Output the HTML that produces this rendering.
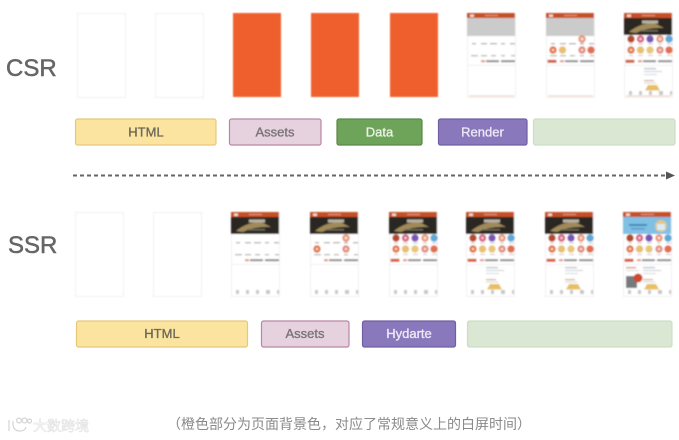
<!DOCTYPE html>
<html><head><meta charset="utf-8"><style>
html,body{margin:0;padding:0;background:#fff;width:679px;height:440px;overflow:hidden}
svg{display:block}
text{font-family:"Liberation Sans","Noto Sans CJK SC",sans-serif}
</style></head><body>
<svg width="679" height="440" viewBox="0 0 679 440" xmlns="http://www.w3.org/2000/svg">
<defs>
<filter id="b" x="-5%" y="-5%" width="110%" height="110%"><feGaussianBlur stdDeviation="0.7"/></filter>
<filter id="t"><feGaussianBlur stdDeviation="0.35"/></filter>
<g id="frame"><rect x="0.5" y="0.5" width="48" height="84" fill="#fff" stroke="#f0f0f0"/></g>
<g id="head"><rect x="0" y="0" width="48" height="5" fill="#c64f28"/><rect x="3" y="1.5" width="4" height="2.5" fill="#f3d9cc"/><rect x="18" y="2" width="13" height="1" fill="#e89a7c"/></g>
<g id="gray"><rect x="0" y="5" width="48" height="18" fill="#cbcbcb"/></g>
<g id="black"><rect x="0" y="5" width="48" height="17" fill="#2a2622"/><path d="M5 19 Q16 10 30 10 L40 15 Q24 14 12 20Z" fill="#a08a58"/><rect x="18" y="7.5" width="16" height="3" fill="#b8b0a0"/><rect x="16" y="17" width="18" height="1.5" fill="#6f6a5e"/></g>
<g id="blue"><rect x="0" y="5" width="48" height="17" fill="#7fc0e4"/><rect x="6" y="12" width="18" height="2" fill="#3f88b8"/><rect x="8" y="16" width="14" height="1.5" fill="#5b9dc6"/><circle cx="38" cy="14" r="6" fill="#e2c58a"/><rect x="34" y="12" width="8" height="6" fill="#d9ecf5"/></g>
<g id="l1" fill="#b5b5b5"><rect x="5" y="30" width="4" height="1.4"/><rect x="14" y="30" width="6" height="1.4"/><rect x="23" y="30" width="7" height="1.4"/><rect x="34" y="30" width="4" height="1.4"/><rect x="43" y="30" width="5" height="1.4"/></g>
<g id="l2" fill="#bcbcbc"><rect x="4" y="42" width="7" height="1.4"/><rect x="14" y="42" width="6" height="1.4"/><rect x="24" y="42" width="5" height="1.4"/><rect x="34" y="42" width="4" height="1.4"/><rect x="44" y="42" width="4" height="1.4"/></g>
<g id="strip"><rect x="14" y="47.2" width="4" height="2" fill="#e09080"/><rect x="19" y="47.2" width="13" height="2" fill="#8a8a8a"/><rect x="34" y="47.2" width="14" height="2" fill="#8a8a8a"/><rect x="0" y="52" width="48" height="0.8" fill="#ececec"/></g>
<g id="tag"><rect x="1.5" y="46.8" width="9" height="3" fill="#d25a3c"/></g>
<g id="foot"><g fill="#c6c6c6"><rect x="5" y="78" width="3" height="4"/><rect x="15" y="78" width="3" height="4"/><rect x="25" y="78" width="3" height="4"/><rect x="35" y="78" width="4" height="4"/><rect x="46" y="78" width="2" height="4"/></g></g>
<g id="footline"><rect x="2" y="82.5" width="45" height="1" fill="#ecc9ba"/></g>
<g id="content"><rect x="20" y="55" width="12" height="1.3" fill="#b9bfcc"/><rect x="20" y="58" width="18" height="1" fill="#c8ccd6"/><rect x="20" y="61" width="13" height="1" fill="#d2d5dc"/><rect x="20" y="67" width="10" height="1.2" fill="#d7a68e"/><rect x="20" y="69.5" width="12" height="1" fill="#d4d4d4"/><path d="M21 77.5 L24 72 H33 L36 77.5Z" fill="#e8bf62"/></g>
<g id="left"><rect x="3" y="55" width="10" height="1.3" fill="#d58a70"/><rect x="3" y="58" width="13" height="1" fill="#d6d6d6"/><rect x="3" y="64" width="11" height="12" fill="#77797c"/><circle cx="15" cy="66" r="4.5" fill="#cf4a2a"/></g>
<g id="a1"><circle cx="7" cy="26" r="3.7" fill="#b5492c"/></g>
<g id="a2"><circle cx="16.5" cy="26" r="3.7" fill="#d8587a"/><circle cx="16.5" cy="26" r="1.4" fill="#f4d0da"/></g>
<g id="a3"><circle cx="26" cy="26" r="3.7" fill="#7a55b5"/></g>
<g id="a4"><circle cx="36" cy="26" r="3.7" fill="#e89070"/><circle cx="36" cy="26" r="1.5" fill="#fbe3d8"/></g>
<g id="a5"><circle cx="45" cy="26" r="3.7" fill="#60a8d8"/></g>
<g id="b1"><circle cx="7" cy="37" r="3.7" fill="#e0703a"/><circle cx="7" cy="37" r="1.4" fill="#f8d4c0"/></g>
<g id="b2"><circle cx="16.5" cy="37" r="3.7" fill="#e8c070"/></g>
<g id="b3"><circle cx="26" cy="37" r="3.7" fill="#e8c878"/></g>
<g id="b4"><circle cx="36" cy="37" r="3.7" fill="#e08878"/><circle cx="36" cy="37" r="1.4" fill="#f8dcd4"/></g>
<g id="b5"><circle cx="45" cy="37" r="3.7" fill="#e07050"/></g>
<g id="all"><use href="#a1"/><use href="#a2"/><use href="#a3"/><use href="#a4"/><use href="#a5"/><use href="#b1"/><use href="#b2"/><use href="#b3"/><use href="#b4"/><use href="#b5"/></g>
<g id="labels"><g fill="#c8c8c8"><rect x="5" y="30.5" width="4" height="1"/><rect x="14" y="30.5" width="5" height="1"/><rect x="24" y="30.5" width="5" height="1"/><rect x="34" y="30.5" width="4" height="1"/><rect x="43" y="30.5" width="5" height="1"/><rect x="5" y="42" width="4" height="1"/><rect x="14" y="42" width="5" height="1"/><rect x="24" y="42" width="5" height="1"/><rect x="34" y="42" width="4" height="1"/><rect x="43" y="42" width="5" height="1"/></g></g>
</defs>

<g filter="url(#b)">
<!-- CSR row -->
<use href="#frame" x="77" y="13"/>
<use href="#frame" x="155" y="13"/>
<rect x="233" y="13" width="48" height="84" fill="#ef5f2e"/>
<rect x="311" y="13" width="48" height="84" fill="#ef5f2e"/>
<rect x="390" y="13" width="48" height="84" fill="#ef5f2e"/>
<g transform="translate(467,13)"><use href="#frame"/><use href="#head"/><use href="#gray"/><use href="#l1"/><use href="#l2"/><use href="#strip"/><use href="#footline"/></g>
<g transform="translate(546,13)"><use href="#frame"/><use href="#head"/><use href="#gray"/><use href="#l1"/><use href="#l2"/><use href="#a4"/><use href="#b1"/><use href="#b2"/><use href="#b4"/><use href="#b5"/><use href="#strip"/><use href="#tag"/><use href="#footline"/></g>
<g transform="translate(624,13)"><use href="#frame"/><use href="#head"/><use href="#black"/><use href="#all"/><use href="#labels"/><use href="#strip"/><use href="#tag"/><use href="#content"/><use href="#foot"/><use href="#footline"/></g>
<!-- SSR row -->
<use href="#frame" x="75" y="212"/>
<use href="#frame" x="153" y="212"/>
<g transform="translate(231,212)"><use href="#frame"/><use href="#head"/><use href="#black"/><use href="#l1"/><use href="#l2"/><use href="#strip"/><use href="#foot"/></g>
<g transform="translate(310,212)"><use href="#frame"/><use href="#head"/><use href="#black"/><use href="#l1"/><use href="#l2"/><use href="#a4"/><use href="#b1"/><use href="#b4"/><use href="#strip"/><use href="#foot"/></g>
<g transform="translate(389,212)"><use href="#frame"/><use href="#head"/><use href="#black"/><use href="#all"/><use href="#labels"/><use href="#strip"/><use href="#tag"/><use href="#foot"/></g>
<g transform="translate(466,212)"><use href="#frame"/><use href="#head"/><use href="#black"/><use href="#all"/><use href="#labels"/><use href="#strip"/><use href="#tag"/><use href="#content"/><use href="#foot"/></g>
<g transform="translate(545,212)"><use href="#frame"/><use href="#head"/><use href="#black"/><use href="#all"/><use href="#labels"/><use href="#strip"/><use href="#tag"/><use href="#content"/><use href="#foot"/></g>
<g transform="translate(623,212)"><use href="#frame"/><use href="#head"/><use href="#blue"/><use href="#all"/><use href="#labels"/><use href="#strip"/><use href="#tag"/><use href="#content"/><use href="#left"/><use href="#foot"/></g>
</g>

<!-- bars -->
<g stroke-width="1.2">
<rect x="75.5" y="119" width="140.5" height="26" rx="2" fill="#fbe4a0" stroke="#e8c878"/>
<rect x="229.5" y="119" width="91.5" height="26" rx="2" fill="#e6d2de" stroke="#b985a6"/>
<rect x="337" y="119" width="85" height="26" rx="2" fill="#6ea45a" stroke="#5a8748"/>
<rect x="438.5" y="119" width="88.5" height="26" rx="2" fill="#8a78bd" stroke="#6f5fa2"/>
<rect x="533.5" y="119" width="141.5" height="26" rx="2" fill="#d9e7d3" stroke="#cbdec4"/>
<rect x="76.5" y="321" width="171" height="26" rx="2" fill="#fbe4a0" stroke="#e8c878"/>
<rect x="261.5" y="321" width="87.5" height="26" rx="2" fill="#e6d2de" stroke="#b985a6"/>
<rect x="362.5" y="321" width="93" height="26" rx="2" fill="#8a78bd" stroke="#6f5fa2"/>
<rect x="467.5" y="321" width="204.5" height="26" rx="2" fill="#d9e7d3" stroke="#cbdec4"/>
</g>
<g filter="url(#t)" font-size="13" text-anchor="middle" stroke-width="0.35">
<text x="146" y="136.5" fill="#6f6a58" stroke="#6f6a58">HTML</text>
<text x="275" y="136.5" fill="#7a7478" stroke="#7a7478">Assets</text>
<text x="379.5" y="136.5" fill="#eaf2e4" stroke="#eaf2e4">Data</text>
<text x="482.5" y="136.5" fill="#ece8f6" stroke="#ece8f6">Render</text>
<text x="162" y="338" fill="#6f6a58" stroke="#6f6a58">HTML</text>
<text x="305" y="338" fill="#7a7478" stroke="#7a7478">Assets</text>
<text x="409" y="338" fill="#ece8f6" stroke="#ece8f6">Hydarte</text>
</g>

<!-- arrow -->
<g filter="url(#t)">
<line x1="73" y1="175.5" x2="667" y2="175.5" stroke="#666" stroke-width="2" stroke-dasharray="4 3"/>
<path d="M666 171.5 L675 175.5 L666 179.5Z" fill="#555"/>
</g>

<!-- labels -->
<g filter="url(#t)">
<text x="6" y="76" font-size="24" fill="#666" stroke="#666" stroke-width="0.5">CSR</text>
<text x="8" y="253" font-size="24" fill="#666" stroke="#666" stroke-width="0.5">SSR</text>
<text x="167" y="429" font-size="14" fill="#8a8a8a">（橙色部分为页面背景色，对应了常规意义上的白屏时间）</text>
<text x="33" y="431" font-size="14" fill="#fff" stroke="#dcdcdc" stroke-width="0.5">大数跨境</text>
</g>
<g fill="none" stroke="#d4d4d4" stroke-width="1.2" filter="url(#t)">
<path d="M9 420 V431 M13 421 Q12 431 20 431 Q25 431 26 427"/>
<circle cx="19" cy="420.5" r="2.4"/><circle cx="24.5" cy="420.5" r="2.4"/><circle cx="29.5" cy="421" r="2"/>
</g>
</svg>
</body></html>
